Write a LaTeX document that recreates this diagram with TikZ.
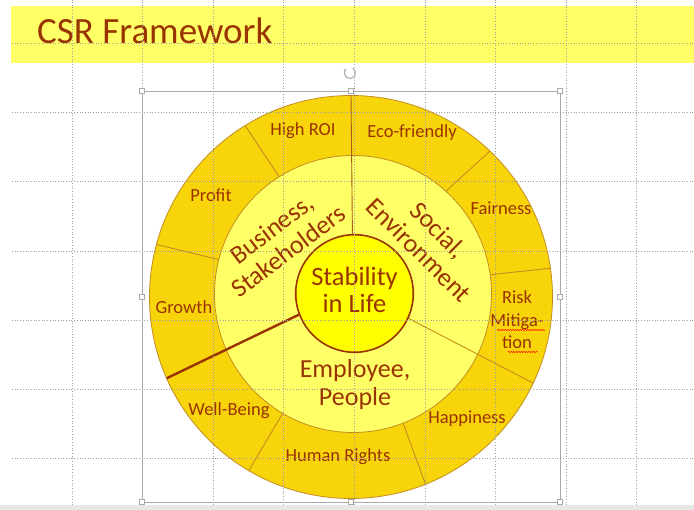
\documentclass[tikz,border=0pt]{standalone}
\usepackage{fontspec}
\setmainfont{Carlito}
\usetikzlibrary{calc,arrows.meta,decorations.pathmorphing}
\definecolor{banner}{RGB}{255,255,102}
\definecolor{gold}{RGB}{247,213,10}
\definecolor{paleyellow}{RGB}{255,255,102}
\definecolor{core}{RGB}{255,255,0}
\definecolor{rust}{RGB}{153,51,0}
\definecolor{edge}{RGB}{196,140,30}
\definecolor{spoke}{RGB}{170,90,30}
\definecolor{gridgray}{RGB}{160,160,160}
\definecolor{framegray}{RGB}{170,170,170}

\begin{document}
\begin{tikzpicture}[x=1pt, y=1pt,
  lbl/.style = {text=rust, font=\fontsize{18.5}{22.5}\selectfont, align=center, inner sep=0pt},
  bigLbl/.style = {text=rust, font=\fontsize{26}{28}\selectfont, align=center, inner sep=0pt},
  divider/.style = {draw=edge, line width=0.9pt},
  spell/.style = {red!85!orange, line width=0.5pt, decorate, decoration={snake, amplitude=0.7pt, segment length=2.5pt}},
  grid line/.style = {gridgray, dotted, line width=0.7pt},
  handle/.style = {draw=framegray, fill=white, minimum size=5pt, inner sep=0pt, line width=0.6pt}]

\useasboundingbox (0,0) rectangle (694,510);
% slide and title bar
\fill[white] (0,0) rectangle (694,510);
\fill[gray!18] (0,0) rectangle (694,5);
\fill[banner] (11,447) rectangle (694,504);
\node[anchor=base west, text=rust, font=\fontsize{37}{40}\selectfont, inner sep=0pt] (title) at (37,466) {CSR Framework};

% wheel
\coordinate (O) at (351,213);
\coordinate (M) at (353,216);
\coordinate (C) at (354.5,216.5);
\draw[fill=gold, draw=edge, line width=0.8pt] (O) circle (201.5);
\foreach \a/\b in {122.2/121.7, 165.6/164.9, 239.5/239.5, 291.2/291.7, 8/8.2, 47.9/46.4}
  \draw[divider] ($(M)+(\a:138.5)$) -- ($(O)+(\b:201.5)$);
\draw[fill=paleyellow, draw=edge, line width=0.8pt] (M) circle (138.5);
\draw[spoke, line width=0.9pt] ($(C)+(92:58.8)$) -- ($(O)+(90:201.5)$);
\draw[divider] ($(C)+(335.3:58.8)$) -- ($(O)+(334.7:201.5)$);
\draw[rust, line width=2.4pt] ($(C)+(200.8:58.8)$) -- ($(O)+(203.8:201.5)$);
\draw[fill=core, draw=rust, line width=1.6pt] (C) circle (58.8);

% outer ring
\node[lbl] (highroi) at (303,379) {High ROI};
\node[lbl] (eco) at (412,377) {Eco-friendly};
\node[lbl] (profit) at (211,315) {Profit};
\node[lbl] (fairness) at (501,302) {Fairness};
\node[lbl] (growth) at (184,203) {Growth};
\node[lbl] (risk) at (517,190) {Risk\\Mitiga-\\tion};
\node[lbl] (wellbeing) at (229,99) {Well-Being};
\node[lbl] (rights) at (338,53) {Human Rights};
\node[lbl] (happiness) at (467,91) {Happiness};
\draw[spell] (497,180) -- (545,180);
\draw[spell] (508,158) -- (538,158);

% middle ring and core
\node[bigLbl, rotate=37] (business) at (280,270) {Business,\\Stakeholders};
\node[bigLbl, rotate=-45] (social) at (429,270) {Social,\\Environment};
\node[bigLbl] (employee) at (355,125) {Employee,\\People};
\node[bigLbl, font=\fontsize{26.5}{27.5}\selectfont] (stability) at (354.5,220) {Stability\\in Life};

% slide grid
\foreach \k in {0,...,8}
  \draw[grid line] ({72+70.6*\k},5) -- ({72+70.6*\k},510);
\foreach \k in {0,...,6}
  \draw[grid line] (12,{467-69.3*\k}) -- (694,{467-69.3*\k});

% selection frame
\draw[framegray, line width=0.8pt] (142,8) rectangle (560,419);
\foreach \p [count=\i] in {(142,8),(351,8),(560,8),(142,213),(560,213),(142,419),(351,419),(560,419)}
  \node[handle] (h\i) at \p {};
\coordinate (rot) at (350,437);
\draw[framegray, line width=1.1pt, -{Stealth[length=3pt]}] ($(rot)+(60:5.5)$) arc[start angle=60, end angle=-230, radius=5.5];
\end{tikzpicture}
\end{document}
